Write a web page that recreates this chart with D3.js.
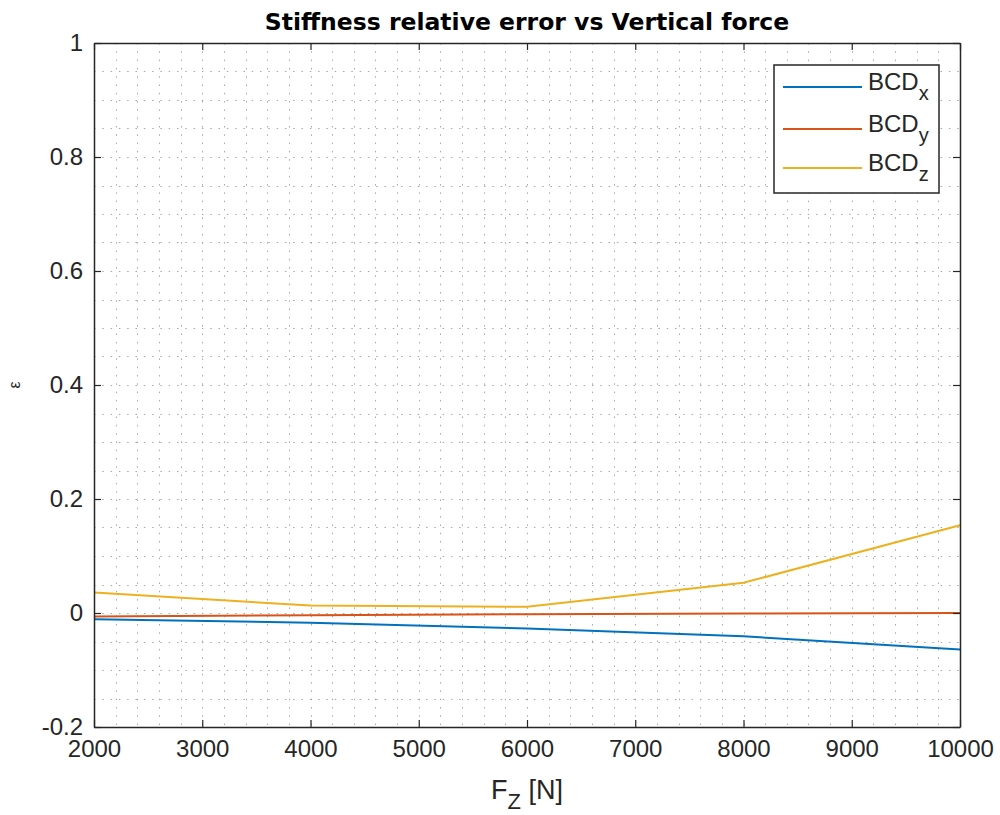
<!DOCTYPE html>
<html>
<head>
<meta charset="utf-8">
<script src="https://cdn.jsdelivr.net/npm/d3@7"></script>
<style>
  body { margin: 0; background: #fff; }
  text { font-family: "Liberation Sans", Arial, sans-serif; fill: #262626; }
</style>
</head>
<body>
<div id="main"></div>
<script>
// data
var forces = [2000, 4000, 6000, 8000, 10000]
var bcdX = [-0.011, -0.017, -0.027, -0.041, -0.064]
var bcdY = [-0.006, -0.004, -0.002, -0.001, 0.0]
var bcdZ = [0.036, 0.013, 0.011, 0.053, 0.154]
var xTicks = [2000, 3000, 4000, 5000, 6000, 7000, 8000, 9000, 10000]
var yTicks = [-0.2, 0, 0.2, 0.4, 0.6, 0.8, 1]
var seriesNames = ["x", "y", "z"]
var colors = ["#0072BD", "#D95319", "#EDB120"]

var W = 1000, H = 815
var margin = { top: 43, left: 94, right: 40, bottom: 88 }
var w = W - margin.left - margin.right,
	h = H - margin.top - margin.bottom

var svg = d3.select("#main").append("svg")
	.attr("width", W).attr("height", H)

var g = svg.append("g")
	.attr("transform", "translate(" + margin.left + "," + margin.top + ")")

var x = d3.scaleLinear().domain([2000, 10000]).range([0, w])
var y = d3.scaleLinear().domain([-0.2, 1]).range([h, 0])

// grid, all dotted
var xMinor = d3.range(2000, 10001, 200)
var yMinor = d3.range(-0.2, 1.0001, 0.05)

g.append("g").selectAll("line").data(xMinor).enter().append("line")
	.attr("x1", function(d) { return Math.round(x(d)) + 0.5 }).attr("x2", function(d) { return Math.round(x(d)) + 0.5 })
	.attr("y1", 0).attr("y2", h)
	.attr("stroke", "#a8a8a8").attr("stroke-width", 1)
	.attr("stroke-dasharray", "1.5,6.8")
g.append("g").selectAll("line").data(yMinor).enter().append("line")
	.attr("y1", function(d) { return Math.round(y(d)) + 0.5 }).attr("y2", function(d) { return Math.round(y(d)) + 0.5 })
	.attr("x1", 0).attr("x2", w)
	.attr("stroke", "#a8a8a8").attr("stroke-width", 1)
	.attr("stroke-dasharray", "1.5,6.8")

// lines
var line = d3.line()
	.x(function(d, i) { return x(forces[i]) })
	.y(function(d) { return y(d) })

;[bcdX, bcdY, bcdZ].forEach(function(s, i) {
	g.append("path")
		.datum(s)
		.attr("d", line)
		.attr("fill", "none")
		.attr("stroke", colors[i])
		.attr("stroke-width", 2)
})

// axes
var xAxis = d3.axisBottom(x).tickValues(xTicks).tickSizeInner(-7).tickSizeOuter(0).tickPadding(13)
	.tickFormat(d3.format("d"))
var yAxis = d3.axisLeft(y).tickValues(yTicks).tickSizeInner(-7).tickSizeOuter(0).tickPadding(11)
	.tickFormat(function(d) { return String(+d.toFixed(1)) })

var gx = g.append("g").attr("transform", "translate(0," + h + ")").call(xAxis)
var gy = g.append("g").call(yAxis)
// top/right ticks
g.append("g").call(d3.axisTop(x).tickValues(xTicks).tickSizeInner(-7).tickSizeOuter(0).tickFormat(""))
g.append("g").attr("transform", "translate(" + w + ",0)")
	.call(d3.axisRight(y).tickValues(yTicks).tickSizeInner(-7).tickSizeOuter(0).tickFormat(""))

svg.selectAll(".domain").attr("stroke", "#262626").attr("stroke-width", 1.5)
svg.selectAll(".tick line").attr("stroke", "#262626").attr("stroke-width", 1.2)
gx.selectAll("text").style("font-size", "24px").attr("dy", "0.71em")
gy.selectAll("text").style("font-size", "24px")

// title
svg.append("text")
	.attr("x", margin.left + w / 2).attr("y", 30)
	.attr("text-anchor", "middle")
	.style("font-family", "'DejaVu Sans', sans-serif")
	.style("font-size", "23.5px").style("font-weight", "bold")
	.style("fill", "#000")
	.text("Stiffness relative error vs Vertical force")

// x label
var xl = svg.append("text")
	.attr("x", margin.left + w / 2).attr("y", 799)
	.attr("text-anchor", "middle")
	.style("font-size", "27px")
xl.append("tspan").text("F")
xl.append("tspan").attr("dy", 10).style("font-size", "22px").text("Z")
xl.append("tspan").attr("dy", -10).text(" [N]")

// y label
svg.append("text")
	.attr("transform", "translate(20," + (margin.top + h / 2) + ") rotate(-90)")
	.attr("text-anchor", "middle")
	.style("font-size", "16px")
	.text("ε")

// legend
var lg = svg.append("g").attr("transform", "translate(774,65)")
lg.append("rect").attr("width", 165).attr("height", 128)
	.attr("fill", "#fff").attr("stroke", "#262626").attr("stroke-width", 1.5)
var rows = [22, 64, 103]
seriesNames.forEach(function(n, i) {
	lg.append("line")
		.attr("x1", 9).attr("x2", 88)
		.attr("y1", rows[i]).attr("y2", rows[i])
		.attr("stroke", colors[i]).attr("stroke-width", 2)
	var t = lg.append("text").attr("x", 94).attr("y", rows[i] + 3)
		.style("font-size", "24px")
	t.append("tspan").text("BCD")
	t.append("tspan").attr("dy", 10).style("font-size", "20px").text(n)
})
</script>
</body>
</html>
